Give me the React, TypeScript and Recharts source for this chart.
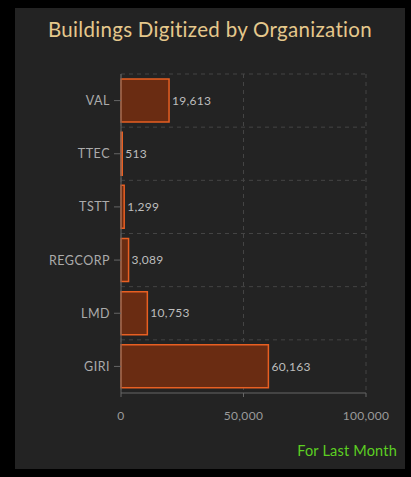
import React from "react";
import { BarChart, Bar, XAxis, YAxis, CartesianGrid, LabelList } from "recharts";

const organizations = ["VAL", "TTEC", "TSTT", "REGCORP", "LMD", "GIRI"];
const buildings = [19613, 513, 1299, 3089, 10753, 60163];
const xTicks = [0, 50000, 100000];
const title = "Buildings Digitized by Organization";
const footnote = "For Last Month";

const data = organizations.map((org, i) => ({ org, value: buildings[i] }));

const fmt = (v: number) => Number(v).toLocaleString("en-US");
const FONT = "Lato, 'Open Sans', sans-serif";

export default function App() {
  return (
    <div style={{ position: "absolute", left: 0, top: 0, width: 411, height: 477, background: "#000", overflow: "hidden", fontFamily: FONT }}>
      <div style={{ position: "absolute", left: 15, top: 8, width: 390, height: 461, background: "#232323" }} />
      <div style={{ position: "absolute", left: 15, top: 17, width: 390, textAlign: "center", color: "#e5c88c", fontSize: 20.5, letterSpacing: 0.3, fontFamily: FONT }}>
        {title}
      </div>
      <div style={{ position: "absolute", right: 14, top: 442, color: "#5ccf22", fontSize: 14.5, letterSpacing: 0.2, fontFamily: FONT }}>
        {footnote}
      </div>
      <div style={{ position: "absolute", left: 0, top: 0 }}>
        <BarChart
          width={411}
          height={477}
          data={data}
          layout="vertical"
          margin={{ top: 74, right: 45, bottom: 54, left: 21 }}
          barCategoryGap={5}
        >
          <CartesianGrid
            stroke="#444"
            strokeDasharray="4 4"
            horizontalCoordinatesGenerator={({ offset }: any) => {
              const n = organizations.length;
              const step = offset.height / n;
              return Array.from({ length: n }, (_, i) => offset.top + i * step);
            }}
          />
          <XAxis
            type="number"
            domain={[0, 100000]}
            ticks={xTicks}
            tickFormatter={fmt}
            stroke="#666"
            tick={{ fill: "#9a9a9a", fontSize: 12, fontFamily: FONT, letterSpacing: 0.3 }}
            tickSize={4}
            tickMargin={14}
            height={30}
          />
          <YAxis
            type="category"
            dataKey="org"
            width={100}
            stroke="#666"
            tick={{ fill: "#ababab", fontSize: 12.5, fontFamily: FONT, letterSpacing: 0.5 }}
            tickSize={7}
            tickMargin={4}
          />
          <Bar dataKey="value" fill="#6a2c12" stroke="#e85f22" strokeWidth={1.5} isAnimationActive={false}>
            <LabelList dataKey="value" position="right" offset={3} formatter={fmt} fill="#bdbdbd" fontSize={12} fontFamily={FONT} letterSpacing={0.3} />
          </Bar>
        </BarChart>
      </div>
    </div>
  );
}
